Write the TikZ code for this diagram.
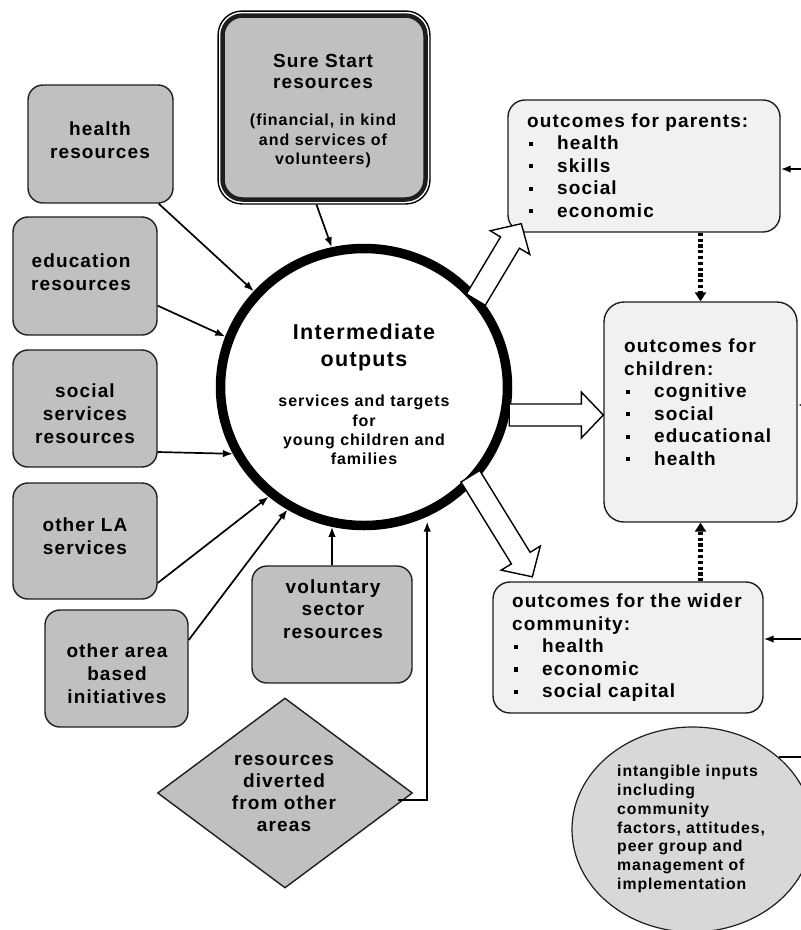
\documentclass[tikz,border=0pt]{standalone}
\usepackage{fontspec}
\setmainfont{Liberation Sans}[LetterSpace=6]
\usetikzlibrary{arrows.meta,calc,shapes.geometric,fit}
\definecolor{resgray}{HTML}{C0C0C0}
\definecolor{outgray}{HTML}{F1F1F1}
\definecolor{intgray}{HTML}{D8D8D8}
\definecolor{edgec}{HTML}{1E1E1E}
\newcommand{\bul}{\rule[0.2em]{0.22em}{0.22em}}
\newcommand{\itm}[1]{\hspace{2pt}\makebox[28pt][l]{\bul}#1}
\newcommand{\fatarrow}[2]{%
  \coordinate (fatH) at ($(#2)!22pt!(#1)$);
  \draw[fatarr] ($(#1)!11pt!90:(#2)$) -- ($(fatH)!11pt!-90:(#1)$) -- ($(fatH)!23pt!-90:(#1)$) -- (#2)
    -- ($(fatH)!23pt!90:(#1)$) -- ($(fatH)!11pt!90:(#1)$) -- ($(#1)!11pt!-90:(#2)$) -- cycle;}
\begin{document}
\begin{tikzpicture}[x=1pt,y=-1pt,
  res/.style={rectangle, rounded corners=15pt, draw=edgec, fill=resgray, line width=1.4pt, inner sep=0pt},
  outc/.style={rectangle, rounded corners=17pt, draw=edgec, fill=outgray, line width=1.4pt, inner sep=0pt},
  big/.style={font=\fontsize{19}{23}\selectfont\bfseries, align=center, inner sep=0pt},
  small/.style={font=\fontsize{16}{19.3}\selectfont\bfseries, align=center, inner sep=0pt},
  outtxt/.style={font=\fontsize{19}{22.5}\selectfont\bfseries, align=left, inner sep=0pt, anchor=west},
  conn/.style={-{Latex[length=10pt,width=7.5pt]}, line width=1.7pt},
  dotarr/.style={-{Triangle[length=9pt,width=11pt]}, line width=4.2pt, dash pattern=on 3.2pt off 2.6pt},
  fatarr/.style={draw=black, fill=white, line width=1.4pt, line join=miter}]
\useasboundingbox (0,0) rectangle (801,930);
\clip (0,0) rectangle (801,930);

% central circle
\node[ellipse, draw=black, fill=white, line width=9.5pt, minimum width=287pt, minimum height=277pt, inner sep=0pt] (io) at (364,387) {};
\node[font=\fontsize{21.5}{27}\selectfont\bfseries, align=center, inner sep=0pt] (iot) at (364,347) {Intermediate\\outputs};
\node[small] (ios) at (364,430) {services and targets\\for\\young children and\\families};

% Sure Start
\node[res, line width=4.5pt, rounded corners=20pt, minimum width=203pt, minimum height=184pt] (ss) at (324,107.5) {};
\node[fit=(ss), draw=black, line width=1.4pt, rounded corners=24pt, inner sep=2.2pt] (ssframe) {};
\node[big, font=\fontsize{19}{21}\selectfont\bfseries] (sst) at (323,71) {Sure Start\\resources};
\node[small, font=\fontsize{16}{19.5}\selectfont\bfseries] (sss) at (323,141) {(financial, in kind\\and services of\\volunteers)};

% left resource boxes
\node[res, minimum width=145pt, minimum height=118pt] (hr) at (100.5,144) {};
\node[big] (hrt) at (100,140) {health\\resources};
\node[res, minimum width=144pt, minimum height=118pt] (ed) at (85,276) {};
\node[big] (edt) at (81,272) {education\\resources};
\node[res, minimum width=144pt, minimum height=117pt] (so) at (85,408.5) {};
\node[big] (sot) at (85,414) {social\\services\\resources};
\node[res, minimum width=144pt, minimum height=116pt] (la) at (85,541) {};
\node[big] (lat) at (85,536) {other LA\\services};
\node[res, minimum width=143pt, minimum height=117pt] (oa) at (116.5,668.5) {};
\node[big] (oat) at (117,674) {other area\\based\\initiatives};
\node[res, minimum width=160pt, minimum height=117pt] (vo) at (332,624.5) {};
\node[big, font=\fontsize{19}{22.5}\selectfont\bfseries] (vot) at (333,609) {voluntary\\sector\\resources};

% diamond
\node[diamond, draw=edgec, fill=resgray, line width=1.4pt, minimum width=255pt, minimum height=190pt, inner sep=0pt] (rd) at (285,793) {};
\node[big, font=\fontsize{19}{22}\selectfont\bfseries] (rdt) at (284,793) {resources\\diverted\\from other\\areas};

% outcome boxes
\node[outc, minimum width=272pt, minimum height=132pt] (pa) at (644,166) {};
\node[outtxt] (pat) at (527,165.5) {outcomes for parents:\\\itm{health}\\\itm{skills}\\\itm{social}\\\itm{economic}};
\node[outc, minimum width=193pt, minimum height=220pt, rounded corners=20pt] (ch) at (700.5,412) {};
\node[outtxt] (cht) at (624,402) {outcomes for\\children:\\\itm{cognitive}\\\itm{social}\\\itm{educational}\\\itm{health}};
\node[outc, minimum width=270pt, minimum height=131pt] (cm) at (628,647.5) {};
\node[outtxt] (cmt) at (512,648) {outcomes for the wider\\community:\\\itm{health}\\\itm{economic}\\\itm{social capital}};

% intangible inputs
\node[ellipse, draw=edgec, fill=intgray, line width=1.2pt, minimum width=241pt, minimum height=205pt, inner sep=0pt] (ii) at (692.5,829.5) {};
\node[font=\fontsize{15.8}{18.7}\selectfont\bfseries, align=left, inner sep=0pt, anchor=west] (iit) at (617,829) {intangible inputs\\including\\community\\factors, attitudes,\\peer group and\\management of\\implementation};

% input connectors
\draw[conn] ($(ssframe.south)+(-7.5,0)$) -- (io.103);
\draw[conn] ($(hr.south east)+(-15,0)$) -- (io.139);
\draw[conn] ($(ed.south east)+(0,-30)$) -- (io.160);
\draw[conn] ($(so.east)+(0,43.5)$) -- (io.207);
\draw[conn] ($(la.east)+(0,42)$) -- (io.229);
\draw[conn] ($(oa.east)+(0,-28.5)$) -- (io.238);
\draw[conn] (vo.north) -- (vo.north |- io.257);
\draw[conn] ($(rd.east)+(-15,7)$) -| ($(io.296)+(0,5)$);

% fat output arrows
\coordinate (paS) at ($(io.center)!0.97!(io.38)$);
\coordinate (paT) at ($(pa.south west)+(14,-9)$);
\fatarrow{paS}{paT}
\coordinate (chT) at ($(ch.west)+(0,3)$);
\coordinate (chS) at ($(io.east |- chT)+(-3,0)$);
\fatarrow{chS}{chT}
\coordinate (cmS) at ($(io.center)!0.95!(io.-40)$);
\coordinate (cmT) at ($(cm.north west)+(40,-4.5)$);
\fatarrow{cmS}{cmT}

% dotted links
\draw[dotarr] (ch.north |- pa.south) -- (ch.north);
\draw[dotarr] (ch.south |- cm.north) -- (ch.south);

% links from the right
\coordinate (rpa) at (815,169);
\coordinate (rch) at (815,405);
\coordinate (rcm) at (815,639);
\coordinate (rii) at (815,757);
\draw[conn] (rpa) -- (rpa -| pa.east);
\draw[conn] (rch) -- (rch -| ch.east);
\draw[conn] (rcm) -- (rcm -| cm.east);
\draw[line width=2.2pt] (ii.40) -- (ii.40 -| rii);
\end{tikzpicture}
\end{document}
